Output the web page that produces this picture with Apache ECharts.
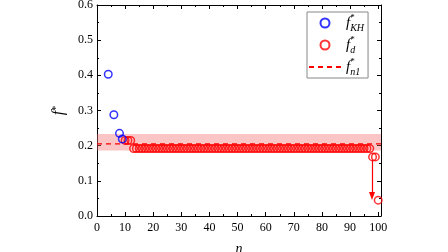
<!DOCTYPE html>
<html>
<head>
<meta charset="utf-8">
<script src="https://cdn.jsdelivr.net/npm/echarts@6/dist/echarts.min.js"></script>
<style>
  html, body { margin: 0; padding: 0; background: #fff; }
  #main { width: 448px; height: 252px; }
</style>
</head>
<body>
<div id="main"></div>
<script>
// f*_KH (blue)
const khN = [4, 6, 8, 9];
const khF = [0.403, 0.288, 0.235, 0.219];

// f*_d (red)
const dN = [10, 11, 12, 13, 14, 15, 16, 17, 18, 19, 20, 21, 22, 23, 24, 25, 26, 27, 28, 29,
  30, 31, 32, 33, 34, 35, 36, 37, 38, 39, 40, 41, 42, 43, 44, 45, 46, 47, 48, 49,
  50, 51, 52, 53, 54, 55, 56, 57, 58, 59, 60, 61, 62, 63, 64, 65, 66, 67, 68, 69,
  70, 71, 72, 73, 74, 75, 76, 77, 78, 79, 80, 81, 82, 83, 84, 85, 86, 87, 88, 89,
  90, 91, 92, 93, 94, 95, 96, 97, 98, 99, 100];
const dF = [0.215, 0.215, 0.215, 0.192, 0.192, 0.192, 0.192, 0.192, 0.192, 0.192,
  0.192, 0.192, 0.192, 0.192, 0.192, 0.192, 0.192, 0.192, 0.192, 0.192,
  0.192, 0.192, 0.192, 0.192, 0.192, 0.192, 0.192, 0.192, 0.192, 0.192,
  0.192, 0.192, 0.192, 0.192, 0.192, 0.192, 0.192, 0.192, 0.192, 0.192,
  0.192, 0.192, 0.192, 0.192, 0.192, 0.192, 0.192, 0.192, 0.192, 0.192,
  0.192, 0.192, 0.192, 0.192, 0.192, 0.192, 0.192, 0.192, 0.192, 0.192,
  0.192, 0.192, 0.192, 0.192, 0.192, 0.192, 0.192, 0.192, 0.192, 0.192,
  0.192, 0.192, 0.192, 0.192, 0.192, 0.192, 0.192, 0.192, 0.192, 0.192,
  0.192, 0.192, 0.192, 0.192, 0.192, 0.192, 0.192, 0.192, 0.168, 0.168, 0.045];

// f*_n1 (dashed) and its shaded range
const n1Line = [[0, 0.205], [101, 0.205]];
const n1Band = [0.186, 0.233];

// arrow n, from f, to f
const arrowN = 97.8;
const arrowFrom = 0.16;
const arrowTo = 0.057;

const xTicks = [0, 101, 10];
const yTicks = [0, 0.6, 0.1];

const serif = "Liberation Serif";
const chart = echarts.init(document.getElementById("main"));

const richLabel = {
  f: { fontFamily: serif, fontStyle: "italic", fontSize: 15, lineHeight: 20, color: "#000" },
  s: { fontFamily: serif, fontSize: 9, lineHeight: 10, verticalAlign: "top", width: 0, color: "#000" },
  b: { fontFamily: serif, fontStyle: "italic", fontSize: 10, lineHeight: 10, verticalAlign: "bottom", color: "#000" },
};
const nameRich = {
  f: { fontFamily: serif, fontStyle: "italic", fontSize: 16, color: "#000" },
  s: { fontFamily: serif, fontSize: 10, verticalAlign: "top", color: "#000" },
};

const baseAxisLine = { show: true, onZero: false, lineStyle: { color: "#000", width: 1 } };
const tick = { show: true, inside: true, length: 4, lineStyle: { color: "#000" } };
const minor = { show: true, splitNumber: 2, length: 2, lineStyle: { color: "#000" } };
const axisText = { fontFamily: serif, fontSize: 12, color: "#000" };

const option = {
  animation: false,
  grid: { left: 97, right: 67, top: 5, bottom: 36, outerBoundsMode: "none", containLabel: false },
  legend: {
    orient: "vertical",
    left: 307,
    top: 12,
    padding: [1, 4, 1, 1],
    itemWidth: 32,
    itemHeight: 9,
    itemGap: 2,
    borderColor: "#888",
    borderWidth: 1,
    data: ["KH", "d", { name: "n1", itemStyle: { opacity: 0 } }],
    formatter: (name) => "{f|f}{s|*}{b|" + name + "}",
    textStyle: { rich: richLabel },
  },
  xAxis: [
    {
      type: "value", min: xTicks[0], max: xTicks[1], interval: xTicks[2],
      name: "n", nameLocation: "middle", nameGap: 26,
      nameTextStyle: { fontFamily: serif, fontStyle: "italic", fontSize: 14, color: "#000" },
      axisLine: baseAxisLine, axisTick: tick, minorTick: minor,
      axisLabel: Object.assign({ margin: 6, showMaxLabel: false }, axisText),
      splitLine: { show: false },
    },
    {
      type: "value", position: "top", min: xTicks[0], max: xTicks[1], interval: xTicks[2],
      axisLine: baseAxisLine, axisTick: tick, minorTick: minor,
      axisLabel: { show: false }, splitLine: { show: false },
    },
  ],
  yAxis: [
    {
      type: "value", min: yTicks[0], max: yTicks[1], interval: yTicks[2],
      name: "{f|f}{s|*}", nameLocation: "middle", nameGap: 21, nameRotate: 90,
      nameTextStyle: { rich: nameRich },
      axisLine: baseAxisLine, axisTick: tick, minorTick: minor,
      axisLabel: Object.assign({ margin: 4, formatter: (v) => v.toFixed(1) }, axisText),
      splitLine: { show: false },
    },
    {
      type: "value", position: "right", min: yTicks[0], max: yTicks[1], interval: yTicks[2],
      axisLine: baseAxisLine, axisTick: tick, minorTick: minor,
      axisLabel: { show: false }, splitLine: { show: false },
    },
  ],
  series: [
    {
      name: "n1",
      type: "line",
      symbol: "none",
      data: n1Line,
      lineStyle: { color: "#ff0000", type: [5, 4], width: 1.2 },
      itemStyle: { color: "#ff0000" },
      z: 1,
      markArea: {
        silent: true,
        itemStyle: { color: "rgba(245,110,110,0.4)" },
        data: [[{ yAxis: n1Band[0] }, { yAxis: n1Band[1] }]],
      },
    },
    {
      name: "KH",
      type: "scatter",
      symbol: "circle",
      symbolSize: 7.5,
      data: khN.map((n, i) => [n, khF[i]]),
      itemStyle: { color: "rgba(255,255,255,0)", borderColor: "#0000ff", borderWidth: 1.5 },
      z: 3,
    },
    {
      name: "d",
      type: "scatter",
      symbol: "circle",
      symbolSize: 7.5,
      data: dN.map((n, i) => [n, dF[i]]),
      itemStyle: { color: "rgba(255,255,255,0)", borderColor: "#ff0000", borderWidth: 1.5 },
      z: 2,
      markLine: {
        silent: true,
        symbol: ["none", "triangle"],
        symbolSize: [6, 8],
        label: { show: false },
        lineStyle: { color: "#ff0000", type: "solid", width: 1.2 },
        data: [[{ coord: [arrowN, arrowFrom] }, { coord: [arrowN, arrowTo] }]],
      },
    },
  ],
};

chart.setOption(option);
</script>
</body>
</html>
